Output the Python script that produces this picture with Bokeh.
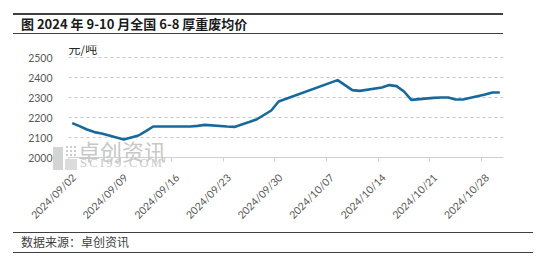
import math
import pandas as pd
from bokeh.plotting import figure
from bokeh.models import (Div, Range1d, FixedTicker, DatetimeTickFormatter, Label,
                          ColumnDataSource)
from bokeh.layouts import column
from bokeh.embed import file_html
from bokeh.resources import INLINE

# ---- data ----
dates = ["2024-09-02", "2024-09-03", "2024-09-04", "2024-09-05", "2024-09-06",
         "2024-09-09", "2024-09-10", "2024-09-11", "2024-09-12", "2024-09-13",
         "2024-09-18", "2024-09-19", "2024-09-20", "2024-09-23", "2024-09-24",
         "2024-09-25", "2024-09-26", "2024-09-27", "2024-09-29", "2024-09-30",
         "2024-10-08", "2024-10-09", "2024-10-10", "2024-10-11", "2024-10-14",
         "2024-10-15", "2024-10-16", "2024-10-17", "2024-10-18", "2024-10-21",
         "2024-10-22", "2024-10-23", "2024-10-24", "2024-10-25", "2024-10-28",
         "2024-10-29", "2024-10-30"]
prices = [2172, 2157, 2140, 2127, 2120,
          2090, 2100, 2110, 2132, 2155,
          2155, 2158, 2163, 2155, 2153,
          2165, 2177, 2190, 2235, 2280,
          2387, 2362, 2337, 2333, 2350,
          2362, 2357, 2330, 2288, 2298,
          2300, 2300, 2290, 2290, 2315,
          2325, 2325]
tick_dates = ["2024-09-02", "2024-09-09", "2024-09-16", "2024-09-23", "2024-09-30",
              "2024-10-07", "2024-10-14", "2024-10-21", "2024-10-28"]
y_ticks = [2000, 2100, 2200, 2300, 2400, 2500]
axis_start = "2024-09-02"
axis_end = "2024-10-31"

title_text = "图 2024 年 9-10 月全国 6-8 厚重废均价"
unit_text = "元/吨"
source_text = "数据来源：卓创资讯"
wm_cn = "卓创资讯"
wm_en = "SCI99.COM"

# Excel-style date axis: each point sits in the middle of its day slot
xs = pd.to_datetime(dates) + pd.Timedelta(hours=12)
src = ColumnDataSource(dict(x=xs, y=prices))

def ms(d, hours=0):
    return int((pd.Timestamp(d) + pd.Timedelta(hours=hours)).value // 10**6)

# frame extends above the top gridline so the unit label is not clipped
p = figure(width=554, height=201, x_axis_type="datetime",
           x_range=Range1d(pd.Timestamp(axis_start), pd.Timestamp(axis_end)),
           y_range=Range1d(2000, 2560),
           output_backend="svg", toolbar_location=None,
           min_border_left=68, min_border_right=51,
           min_border_top=9, min_border_bottom=80)
p.outline_line_color = None
p.background_fill_color = "white"
p.border_fill_color = "white"

p.line("x", "y", source=src, line_color="#17699c", line_width=2.6)

# x axis: tick marks (as minor ticks) at week starts; labels a little to the right
p.xaxis.ticker = FixedTicker(ticks=[ms(d, 18) for d in tick_dates],
                             minor_ticks=[ms(d) for d in tick_dates])
p.xaxis.formatter = DatetimeTickFormatter(days="%Y/%m/%d", months="%Y/%m/%d",
                                          hours="%Y/%m/%d", minutes="%Y/%m/%d")
p.xaxis.axis_line_color = "#d0d0d0"
p.xaxis.major_tick_line_color = None
p.xaxis.major_tick_out = 4
p.xaxis.major_tick_in = 0
p.xaxis.minor_tick_line_color = "#d0d0d0"
p.xaxis.minor_tick_out = 4
p.xaxis.minor_tick_in = 0
p.xaxis.major_label_orientation = math.pi / 4
p.xaxis.major_label_text_color = "#595959"
p.xaxis.major_label_text_font = "Lato"
p.xaxis.major_label_text_font_size = "10.5px"
p.xaxis.major_label_standoff = 14

# y axis
p.yaxis.ticker = FixedTicker(ticks=y_ticks)
p.yaxis.axis_line_color = None
p.yaxis.major_tick_line_color = None
p.yaxis.minor_tick_line_color = None
p.yaxis.major_label_text_color = "#595959"
p.yaxis.major_label_text_font = "Lato"
p.yaxis.major_label_text_font_size = "10.5px"
p.yaxis.major_label_standoff = 10

p.xgrid.grid_line_color = None
p.ygrid.ticker = FixedTicker(ticks=y_ticks[1:])
p.ygrid.grid_line_color = "#c8c8c8"
p.ygrid.grid_line_dash = "3 3"
p.ygrid.grid_line_width = 1

# unit label
p.add_layout(Label(x=pd.Timestamp(axis_start), y=y_ticks[-1], text=unit_text,
                   text_baseline="bottom", y_offset=1,
                   text_font="Noto Sans CJK SC", text_font_size="12px",
                   text_color="#262626"))

title = Div(width=554, height=36, margin=0, text=(
    '<div style="margin:13px 0 0 13px;width:490px;height:21px;box-sizing:border-box;'
    'border-top:2px solid #404040;border-bottom:1.5px solid #404040;'
    'padding-left:8px;line-height:18px;font-family:\'Noto Sans CJK SC\';'
    'font-weight:bold;font-size:13px;color:#1a1a1a;white-space:nowrap;">'
    + title_text + '</div>'))

# footer (with the watermark laid over the lower-left of the chart)
footer = Div(width=554, height=29, margin=0, styles={"overflow": "visible"}, text=(
    '<div style="position:relative;width:554px;height:29px;overflow:visible;">'
    '<div style="position:absolute;left:53px;top:-90px;width:10px;height:23px;background:#d4d4d4;"></div>'
    '<div style="position:absolute;left:65px;top:-92px;width:12px;height:12px;'
    'background-image:radial-gradient(#cccccc 1.2px, transparent 1.3px);background-size:4px 4px;"></div>'
    '<div style="position:absolute;left:65px;top:-78px;width:12px;height:11px;background:#dcdcdc;"></div>'
    '<div style="position:absolute;left:78px;top:-98px;font-family:\'Noto Sans CJK SC\';'
    'font-size:22px;line-height:22px;color:#c8c8c8;white-space:nowrap;">' + wm_cn + '</div>'
    '<div style="position:absolute;left:80px;top:-80px;font-family:\'Liberation Serif\';'
    'font-size:12.5px;line-height:13px;letter-spacing:2.3px;color:#c8c8c8;white-space:nowrap;">'
    + wm_en + '</div>'
    '<div style="position:absolute;left:13px;top:-5px;width:520px;height:21px;box-sizing:border-box;'
    'border-top:1.5px solid #404040;border-bottom:1.5px solid #404040;'
    'padding-left:8px;line-height:18px;font-family:\'Noto Sans CJK SC\';'
    'font-size:12px;color:#404040;white-space:nowrap;">' + source_text + '</div>'
    '</div>'))

layout = column(title, p, footer, spacing=0, margin=0)
open("out.html", "w").write(file_html(layout, INLINE))
